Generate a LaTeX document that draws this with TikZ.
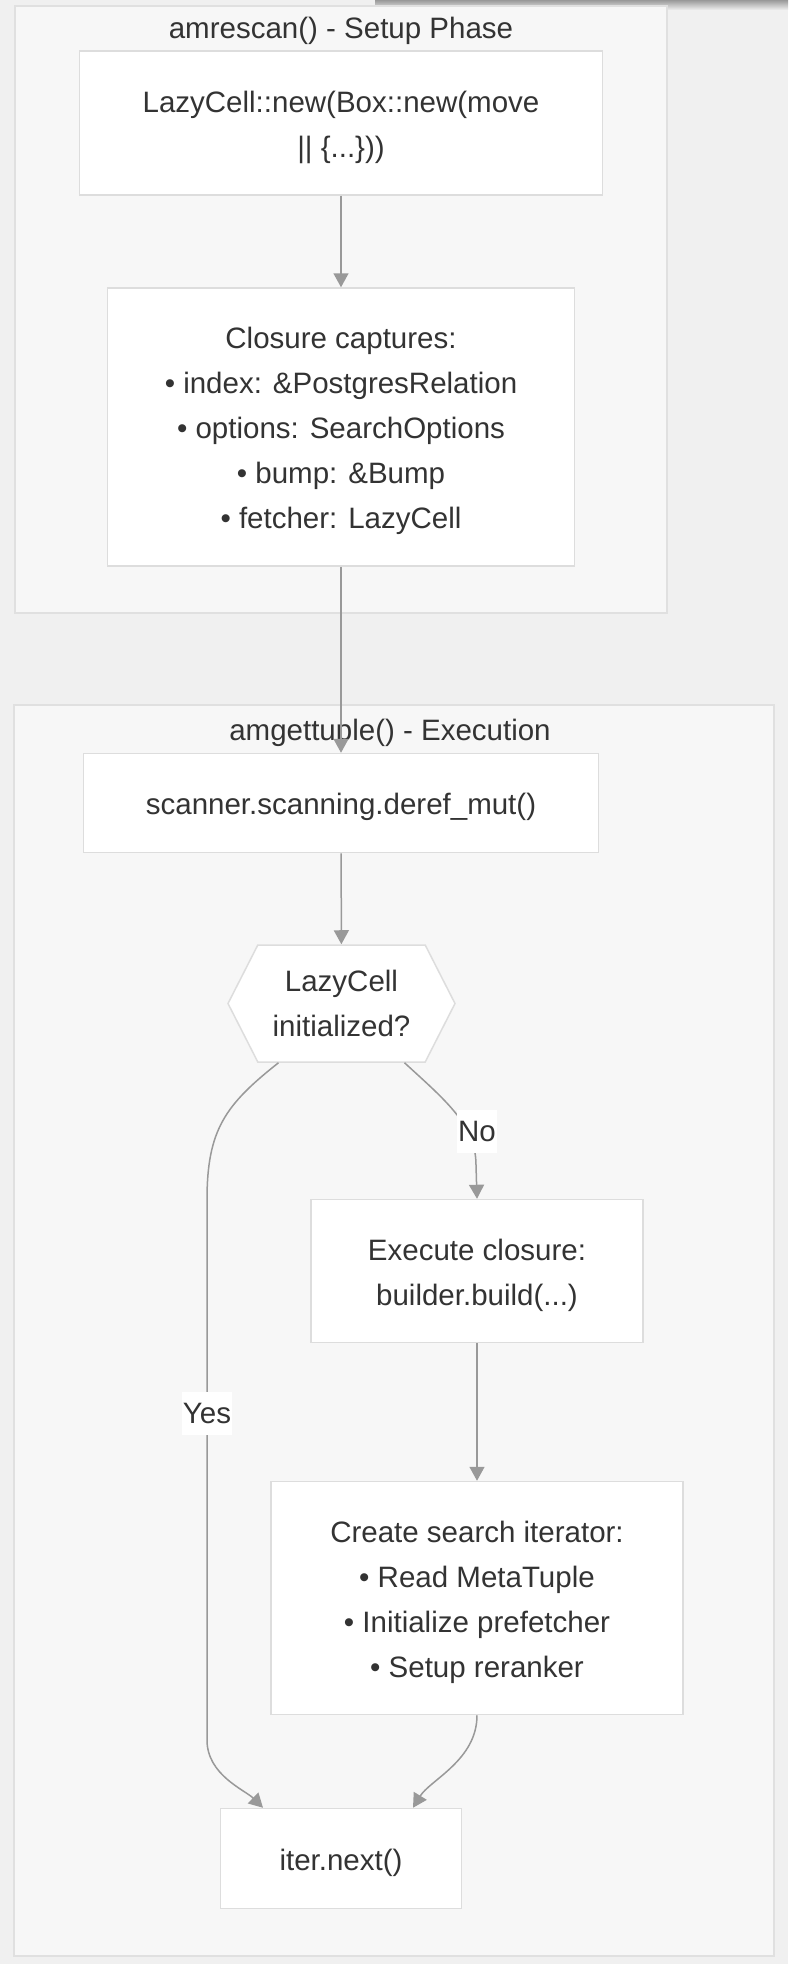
\documentclass[tikz,border=0pt]{standalone}
\usepackage{fontspec}
\setmainfont{Liberation Sans}
\usetikzlibrary{arrows.meta,shapes.symbols}

\definecolor{pagebg}{HTML}{F0F0F0}
\definecolor{groupfill}{HTML}{F7F7F7}
\definecolor{groupline}{HTML}{E0E0E0}
\definecolor{boxline}{HTML}{DDDDDD}
\definecolor{ink}{HTML}{333333}
\definecolor{wire}{HTML}{999999}

\newcommand{\firstline}{\rule{0pt}{29.5pt}}

\begin{document}
\begin{tikzpicture}[x=1pt,y=-1pt,
	-{Triangle[length=14pt,width=15pt]},line width=1.5pt,draw=wire,
	font=\fontsize{29.5}{45}\selectfont,text=ink]
\tikzstyle{group}=[draw=groupline,fill=groupfill,line width=1.5pt,-]
\tikzstyle{stepbox}=[draw=boxline,fill=white,line width=1.5pt,inner sep=0pt,align=center]
\tikzstyle{edgelabel}=[fill=white,inner xsep=1pt,inner ysep=0pt,minimum height=43,text=ink]

\useasboundingbox (0,0) rectangle (788,1964);
\fill[pagebg] (0,0) rectangle (788,1964);
\shade[-,top color=black!40,bottom color=pagebg] (375,0) rectangle (788,10);

% clusters
\draw[group] (15,6) rectangle (667,613);
\node (setuptitle) at (341,31) {amrescan() - Setup Phase};
\draw[group] (14,705) rectangle (774,1956);
\node (exectitle) at (390,733) {amgettuple() - Execution};

% setup phase
\node[stepbox,minimum width=523,minimum height=144] (newcell) at (341,123)
	{\firstline LazyCell::new(Box::new(move\\|| \{...\}))};
\node[stepbox,minimum width=467,minimum height=278] (captures) at (341,427)
	{\firstline Closure captures:\\• index: \&PostgresRelation\\• options: SearchOptions\\• bump: \&Bump\\• fetcher: LazyCell};

% execution
\node[stepbox,minimum width=515,minimum height=99] (deref) at (341,803)
	{\firstline scanner.scanning.deref\_mut()};
\node[stepbox,shape=signal,signal to=west and east,signal pointer angle=126,
	minimum width=227,minimum height=117] (check) at (341.5,1003.5)
	{LazyCell\\initialized?};
\node[stepbox,minimum width=332,minimum height=143] (runclosure) at (477,1271)
	{\firstline Execute closure:\\builder.build(...)};
\node[stepbox,minimum width=412,minimum height=233] (mkiter) at (477,1598)
	{\firstline Create search iterator:\\• Read MetaTuple\\• Initialize prefetcher\\• Setup reranker};
\node[stepbox,minimum width=241,minimum height=100] (next) at (341,1858.5)
	{\firstline iter.next()};

\draw (newcell) -- (captures);
\draw (captures) -- (deref);
\draw (deref) -- (check);
\draw ([xshift=63]check.south) .. controls (445,1100) and (476,1125) .. (476,1165) -- (runclosure.north);
\node[edgelabel] (nolabel) at (477,1131) {No};
\draw ([xshift=-63]check.south) .. controls (225,1105) and (207,1130) .. (207,1200) -- (207,1740)
	.. controls (207,1775) and (245,1790) .. ([xshift=-78]next.north);
\node[edgelabel] (yeslabel) at (207,1413) {Yes};
\draw (runclosure) -- (mkiter);
\draw (mkiter.south) .. controls (477,1760) and (430,1780) .. ([xshift=72]next.north);

\end{tikzpicture}
\end{document}
